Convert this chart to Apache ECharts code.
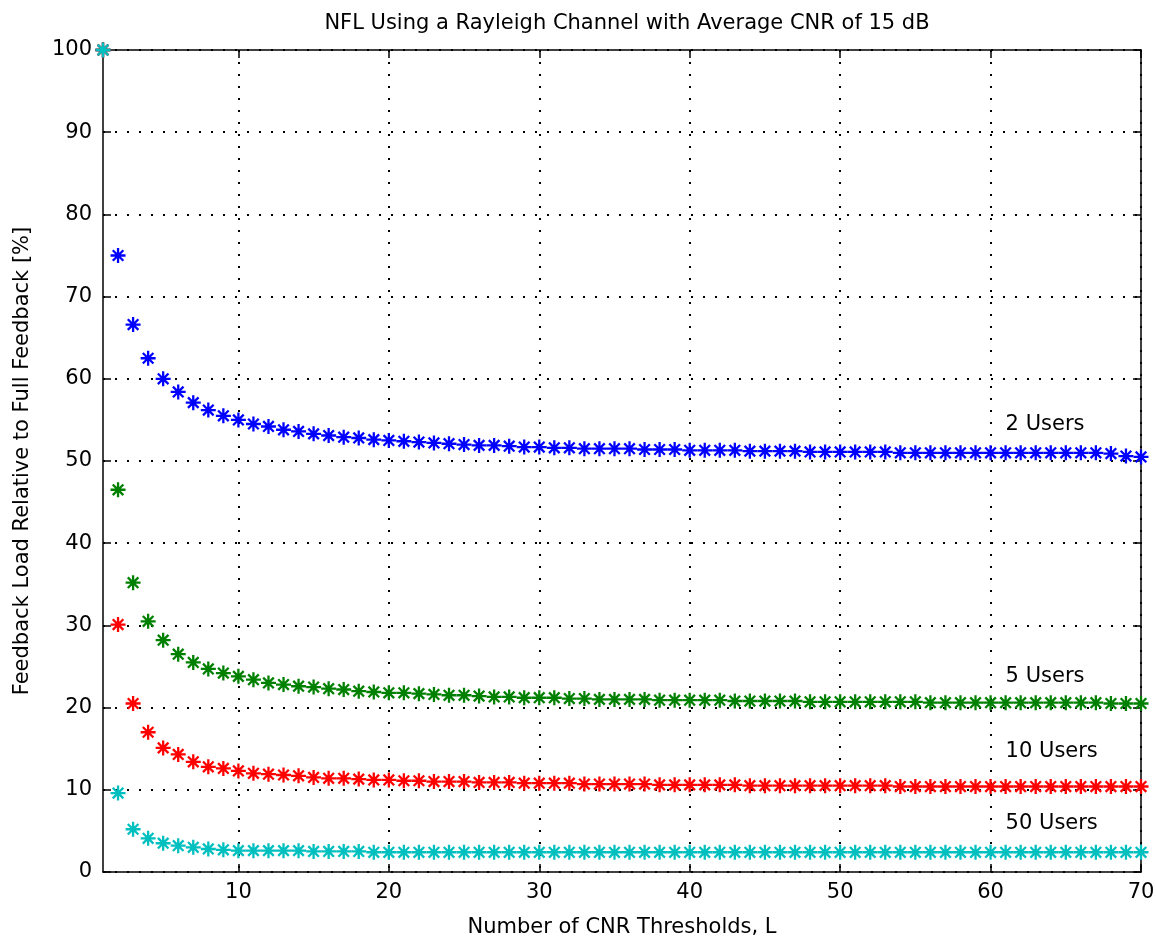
<!DOCTYPE html>
<html>
<head>
<meta charset="utf-8">
<script src="https://cdn.jsdelivr.net/npm/echarts@6/dist/echarts.min.js"></script>
<style>
html,body{margin:0;padding:0;background:#fff;}
#chart{width:1156px;height:941px;}
</style>
</head>
<body>
<div id="chart"></div>
<script>
// ---- data ----
const L = [1,2,3,4,5,6,7,8,9,10,11,12,13,14,15,16,17,18,19,20,21,22,23,24,25,26,27,28,29,30,31,32,33,34,35,36,37,38,39,40,41,42,43,44,45,46,47,48,49,50,51,52,53,54,55,56,57,58,59,60,61,62,63,64,65,66,67,68,69,70];
const users2 = [100,75,66.6,62.5,60,58.4,57.1,56.2,55.5,55.0,
  54.5,54.2,53.8,53.6,53.3,53.1,52.9,52.8,52.6,52.5,
  52.4,52.3,52.2,52.1,52.0,51.9,51.9,51.8,51.7,51.7,
  51.6,51.6,51.5,51.5,51.5,51.5,51.4,51.4,51.4,51.3,
  51.3,51.3,51.3,51.2,51.2,51.2,51.2,51.1,51.1,51.1,
  51.1,51.1,51.1,51.0,51.0,51.0,51.0,51.0,51.0,51.0,
  51.0,51.0,51.0,51.0,51.0,51.0,51.0,50.9,50.6,50.5];
const users5 = [100,46.5,35.2,30.5,28.2,26.5,25.5,24.7,24.2,23.8,
  23.4,23.0,22.8,22.6,22.5,22.3,22.2,22.0,21.9,21.8,
  21.8,21.7,21.6,21.5,21.5,21.4,21.3,21.3,21.2,21.2,
  21.2,21.1,21.1,21.0,21.0,21.0,21.0,20.9,20.9,20.9,
  20.9,20.9,20.8,20.8,20.8,20.8,20.8,20.7,20.7,20.7,
  20.7,20.7,20.7,20.7,20.7,20.6,20.6,20.6,20.6,20.6,
  20.6,20.6,20.6,20.6,20.6,20.6,20.6,20.5,20.5,20.5];
const users10 = [100,30.1,20.5,17.0,15.1,14.3,13.4,12.8,12.6,12.3,
  12.0,11.9,11.8,11.7,11.5,11.4,11.4,11.3,11.2,11.2,
  11.1,11.1,11.0,11.0,11.0,10.9,10.9,10.9,10.8,10.8,
  10.8,10.8,10.7,10.7,10.7,10.7,10.7,10.6,10.6,10.6,
  10.6,10.6,10.6,10.5,10.5,10.5,10.5,10.5,10.5,10.5,
  10.5,10.5,10.5,10.4,10.4,10.4,10.4,10.4,10.4,10.4,
  10.4,10.4,10.4,10.4,10.4,10.4,10.4,10.4,10.4,10.4];
const users50 = [100,9.6,5.2,4.1,3.5,3.2,3.0,2.8,2.7,2.6,
  2.6,2.6,2.6,2.6,2.5,2.5,2.5,2.5,2.4,2.4,
  2.4,2.4,2.4,2.4,2.4,2.4,2.4,2.4,2.4,2.4,
  2.4,2.4,2.4,2.4,2.4,2.4,2.4,2.4,2.4,2.4,
  2.4,2.4,2.4,2.4,2.4,2.4,2.4,2.4,2.4,2.4,
  2.4,2.4,2.4,2.4,2.4,2.4,2.4,2.4,2.4,2.4,
  2.4,2.4,2.4,2.4,2.4,2.4,2.4,2.4,2.4,2.4];
const seriesNames = ['2 Users','5 Users','10 Users','50 Users'];
const xTicks = [10,20,30,40,50,60,70];
const yTicks = [0,10,20,30,40,50,60,70,80,90,100];

// ---- styling ----
const FONT = 'DejaVu Sans';
const colors = ['#0000ff','#008000','#ff0000','#00bfbf'];
const annot = [[61,54.4],[61,23.8],[61,14.7],[61,5.95]];
const star = 'path://M6,0L6,12M0,6L12,6M1.76,1.76L10.24,10.24M1.76,10.24L10.24,1.76';
const allData = [users2, users5, users10, users50];

const axisLineStyle = {color:'#000', width:1.5};
const gridLineStyle = {color:'#000', width:2, type:[2,10]};
const textStyle = {color:'#000', fontFamily:FONT, fontSize:21};

const series = allData.map((vals, i) => ({
  name: seriesNames[i],
  type: 'scatter',
  data: L.map((x, k) => [x, vals[k]]),
  symbol: star,
  symbolSize: 15,
  itemStyle: {color: colors[i], borderColor: colors[i], borderWidth: 2.3, opacity: 1},
  emphasis: {disabled: true},
  animation: false,
  markPoint: {
    symbol: 'circle',
    symbolSize: 0,
    silent: true,
    data: [{name: seriesNames[i], coord: annot[i]}],
    label: {show: true, position: 'right', distance: 0, formatter: '{b}',
      color:'#000', fontFamily: FONT, fontSize: 21}
  }
}));

const chart = echarts.init(document.getElementById('chart'), null, {renderer:'canvas'});
chart.setOption({
  animation: false,
  backgroundColor: '#fff',
  title: {
    text: 'NFL Using a Rayleigh Channel with Average CNR of 15 dB',
    left: 622, textAlign: 'center', top: 8,
    textStyle: {color:'#000', fontFamily:FONT, fontSize:21, fontWeight:'normal'}
  },
  grid: {left:103, right:15, top:50, bottom:69, containLabel:false, outerBoundsMode:'none'},
  xAxis: [{
    type:'value', min:1, max:70, position:'bottom',
    name:'Number of CNR Thresholds, L', nameLocation:'middle', nameGap:45,
    nameTextStyle: textStyle,
    axisLine:{show:true, onZero:false, lineStyle:axisLineStyle},
    axisTick:{show:true, inside:true, length:8, customValues:xTicks, lineStyle:axisLineStyle},
    axisLabel:{show:true, customValues:xTicks, margin:10, ...textStyle},
    splitLine:{show:true, lineStyle:gridLineStyle}
  },{
    type:'value', min:1, max:70, position:'top',
    axisLine:{show:true, onZero:false, lineStyle:axisLineStyle},
    axisTick:{show:true, inside:true, length:8, customValues:xTicks, lineStyle:axisLineStyle},
    axisLabel:{show:false}, splitLine:{show:false}
  }],
  yAxis: [{
    type:'value', min:0, max:100, interval:10, position:'left',
    name:'Feedback Load Relative to Full Feedback [%]', nameLocation:'middle', nameGap:70,
    nameTextStyle: textStyle,
    axisLine:{show:true, onZero:false, lineStyle:axisLineStyle},
    axisTick:{show:true, inside:true, length:8, lineStyle:axisLineStyle},
    axisLabel:{show:true, margin:11, ...textStyle},
    splitLine:{show:true, lineStyle:gridLineStyle}
  },{
    type:'value', min:0, max:100, interval:10, position:'right',
    axisLine:{show:true, onZero:false, lineStyle:axisLineStyle},
    axisTick:{show:true, inside:true, length:8, lineStyle:axisLineStyle},
    axisLabel:{show:false}, splitLine:{show:false}
  }],
  series: series
});
</script>
</body>
</html>
